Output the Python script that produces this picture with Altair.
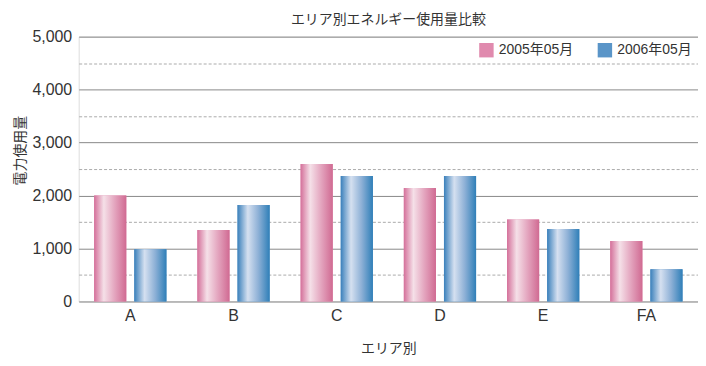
import altair as alt
import pandas as pd

areas = ["A", "B", "C", "D", "E", "FA"]
series = ["2005年05月", "2006年05月"]
v2005 = [2000, 1348, 2594, 2143, 1547, 1141]
v2006 = [985, 1823, 2368, 2368, 1366, 607]

rows = []
for a, p, q in zip(areas, v2005, v2006):
    rows.append({"area": a, "series": series[0], "value": p})
    rows.append({"area": a, "series": series[1], "value": q})
df = pd.DataFrame(rows)

FONT = "Noto Sans CJK JP"
MIX = "Liberation Sans, Noto Sans CJK JP"

pink_grad = alt.Gradient(
    gradient="linear", x1=0, x2=1, y1=0, y2=0,
    stops=[alt.GradientStop(color="#d4709a", offset=0),
           alt.GradientStop(color="#f5e0e8", offset=0.3),
           alt.GradientStop(color="#e3a3bd", offset=0.65),
           alt.GradientStop(color="#d06a92", offset=1)])
blue_grad = alt.Gradient(
    gradient="linear", x1=0, x2=1, y1=0, y2=0,
    stops=[alt.GradientStop(color="#3a80bb", offset=0),
           alt.GradientStop(color="#d5e0f0", offset=0.32),
           alt.GradientStop(color="#8db0d6", offset=0.65),
           alt.GradientStop(color="#2f7fb8", offset=1)])

x_enc = alt.X("area:N", sort=areas,
              scale=alt.Scale(paddingInner=0.3, paddingOuter=0.15),
              axis=alt.Axis(title="エリア別", labelAngle=0, labelFontSize=16,
                            labelColor="#333", labelFont=MIX, labelPadding=6,
                            titleFont=FONT, titleFontSize=14, titleFontWeight="normal",
                            titleColor="#333", titlePadding=18, ticks=False,
                            domain=False))
y_enc = alt.Y("value:Q",
              scale=alt.Scale(domain=[0, 5000], nice=False),
              axis=alt.Axis(title="電力使用量", values=list(range(0, 5001, 500)),
                            labelExpr="datum.value % 1000 ? '' : format(datum.value, ',')",
                            labelFontSize=16, labelColor="#333", labelFont=MIX,
                            labelPadding=7, ticks=False, domain=False,
                            gridColor={"expr": "datum.value % 1000 ? '#aaaaaa' : '#888888'"},
                            gridDash={"expr": "datum.value % 1000 ? [3, 2] : []"},
                            gridWidth=1,
                            titleFont=FONT, titleFontSize=14, titleFontWeight="normal",
                            titleColor="#333", titlePadding=4, titleY=114))
xo_enc = alt.XOffset("series:N", sort=series,
                     scale=alt.Scale(domain=series, paddingInner=0.2, paddingOuter=0))

base = alt.Chart(df).mark_bar().encode(
    x=x_enc, y=y_enc, xOffset=xo_enc,
    color=alt.Color("series:N", sort=series,
                    scale=alt.Scale(domain=series, range=["#e08aae", "#5a95c8"]),
                    legend=alt.Legend(title=None, orient="top-right", direction="horizontal",
                                      symbolType="square", symbolSize=210,
                                      symbolStrokeWidth=0, labelFont=MIX,
                                      labelFontSize=14, labelColor="#333",
                                      columnPadding=24, offset=6, labelOffset=5,
                                      symbolOpacity=1)))

pink = alt.Chart(df).transform_filter(
    alt.datum.series == series[0]).mark_bar(color=pink_grad).encode(
    x=x_enc, y=y_enc, xOffset=xo_enc)
blue = alt.Chart(df).transform_filter(
    alt.datum.series == series[1]).mark_bar(color=blue_grad).encode(
    x=x_enc, y=y_enc, xOffset=xo_enc)

chart = alt.layer(base, pink, blue).properties(
    width=622, height=266, padding={"left": 5, "top": 4, "right": 0, "bottom": 0},
    title=alt.TitleParams("エリア別エネルギー使用量比較", font=FONT, fontSize=14,
                          fontWeight="normal", color="#333", offset=2, anchor="middle"),
).configure_view(stroke="#888888", strokeWidth=1.5).configure(background="white")

chart.save("out.html", embed_options={"renderer": "svg", "actions": False})
